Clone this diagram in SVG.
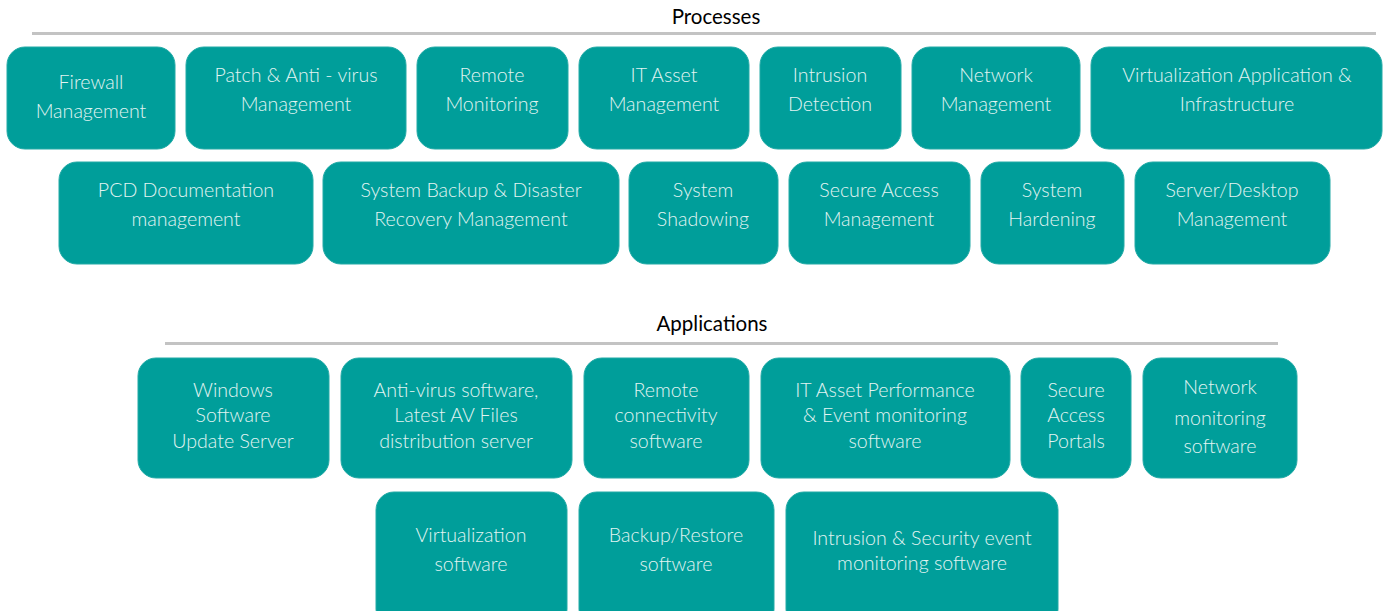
<svg xmlns="http://www.w3.org/2000/svg" width="1383" height="611" viewBox="0 0 1383 611">
<style>
.box{fill:#009e9a;stroke:#22aaa6;stroke-width:1}
.t{font-family:Lato,"Open Sans","Liberation Sans",sans-serif;font-weight:300;font-size:19.6px;fill:#e2f4f2;text-anchor:middle}
.h{font-family:Lato,"Open Sans","Liberation Sans",sans-serif;font-weight:400;font-size:20.5px;fill:#000;text-anchor:middle}
.rule{stroke:#c3c3c3;stroke-width:3}
</style>
<rect width="1383" height="611" fill="#fff"/>
<g id="titles">
<text class="h" x="716" y="24">Processes</text>
<line class="rule" x1="32" y1="33.5" x2="1376" y2="33.5"/>
<text class="h" x="712" y="331">Applications</text>
<line class="rule" x1="165" y1="343.5" x2="1278" y2="343.5"/>
</g>
<g id="connectors"></g>
<g id="n1"><rect class="box" x="7" y="47" width="168" height="102" rx="18"/><text class="t" x="91" y="89">Firewall</text><text class="t" x="91" y="118">Management</text></g>
<g id="n2"><rect class="box" x="186" y="47" width="220" height="102" rx="18"/><text class="t" x="296" y="82">Patch &amp; Anti - virus</text><text class="t" x="296" y="111">Management</text></g>
<g id="n3"><rect class="box" x="417" y="47" width="151" height="102" rx="18"/><text class="t" x="492" y="82">Remote</text><text class="t" x="492" y="111">Monitoring</text></g>
<g id="n4"><rect class="box" x="579" y="47" width="170" height="102" rx="18"/><text class="t" x="664" y="82">IT Asset</text><text class="t" x="664" y="111">Management</text></g>
<g id="n5"><rect class="box" x="760" y="47" width="141" height="102" rx="18"/><text class="t" x="830" y="82">Intrusion</text><text class="t" x="830" y="111">Detection</text></g>
<g id="n6"><rect class="box" x="912" y="47" width="168" height="102" rx="18"/><text class="t" x="996" y="82">Network</text><text class="t" x="996" y="111">Management</text></g>
<g id="n7"><rect class="box" x="1091" y="47" width="291" height="102" rx="18"/><text class="t" x="1237" y="82">Virtualization Application &amp;</text><text class="t" x="1237" y="111">Infrastructure</text></g>
<g id="n8"><rect class="box" x="59" y="162" width="254" height="102" rx="18"/><text class="t" x="186" y="197">PCD Documentation</text><text class="t" x="186" y="226">management</text></g>
<g id="n9"><rect class="box" x="323" y="162" width="296" height="102" rx="18"/><text class="t" x="471" y="197">System Backup &amp; Disaster</text><text class="t" x="471" y="226">Recovery Management</text></g>
<g id="n10"><rect class="box" x="629" y="162" width="149" height="102" rx="18"/><text class="t" x="703" y="197">System</text><text class="t" x="703" y="226">Shadowing</text></g>
<g id="n11"><rect class="box" x="789" y="162" width="181" height="102" rx="18"/><text class="t" x="879" y="197">Secure Access</text><text class="t" x="879" y="226">Management</text></g>
<g id="n12"><rect class="box" x="981" y="162" width="143" height="102" rx="18"/><text class="t" x="1052" y="197">System</text><text class="t" x="1052" y="226">Hardening</text></g>
<g id="n13"><rect class="box" x="1135" y="162" width="195" height="102" rx="18"/><text class="t" x="1232" y="197">Server/Desktop</text><text class="t" x="1232" y="226">Management</text></g>
<g id="a1"><rect class="box" x="138" y="358" width="191" height="120" rx="18"/><text class="t" x="233" y="397">Windows</text><text class="t" x="233" y="422">Software</text><text class="t" x="233" y="448">Update Server</text></g>
<g id="a2"><rect class="box" x="341" y="358" width="231" height="120" rx="18"/><text class="t" x="456" y="397">Anti-virus software,</text><text class="t" x="456" y="422">Latest AV Files</text><text class="t" x="456" y="448">distribution server</text></g>
<g id="a3"><rect class="box" x="584" y="358" width="165" height="120" rx="18"/><text class="t" x="666" y="397">Remote</text><text class="t" x="666" y="422">connectivity</text><text class="t" x="666" y="448">software</text></g>
<g id="a4"><rect class="box" x="761" y="358" width="249" height="120" rx="18"/><text class="t" x="885" y="397">IT Asset Performance</text><text class="t" x="885" y="422">&amp; Event monitoring</text><text class="t" x="885" y="448">software</text></g>
<g id="a5"><rect class="box" x="1021" y="358" width="110" height="120" rx="18"/><text class="t" x="1076" y="397">Secure</text><text class="t" x="1076" y="422">Access</text><text class="t" x="1076" y="448">Portals</text></g>
<g id="a6"><rect class="box" x="1143" y="358" width="154" height="120" rx="18"/><text class="t" x="1220" y="394">Network</text><text class="t" x="1220" y="425">monitoring</text><text class="t" x="1220" y="453">software</text></g>
<g id="a7"><rect class="box" x="376" y="492" width="191" height="135" rx="18"/><text class="t" x="471" y="542">Virtualization</text><text class="t" x="471" y="571">software</text></g>
<g id="a8"><rect class="box" x="579" y="492" width="195" height="135" rx="18"/><text class="t" x="676" y="542">Backup/Restore</text><text class="t" x="676" y="571">software</text></g>
<g id="a9"><rect class="box" x="786" y="492" width="272" height="135" rx="18"/><text class="t" x="922" y="545">Intrusion &amp; Security event</text><text class="t" x="922" y="570">monitoring software</text></g>
</svg>
